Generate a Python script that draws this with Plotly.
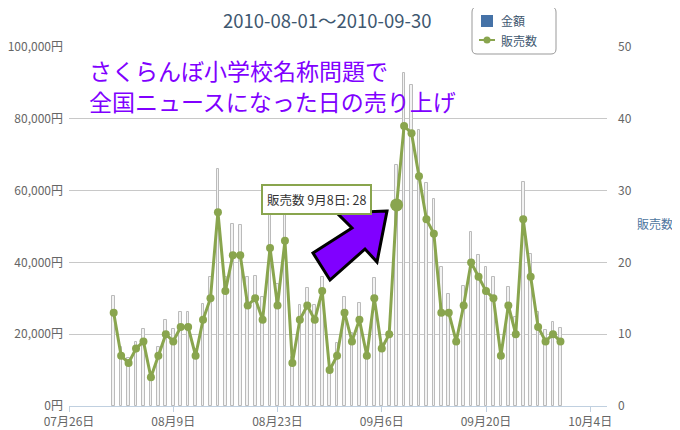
import pandas as pd
import plotly.graph_objects as go

# ---------------- data ----------------
dates = pd.date_range("2010-08-01", "2010-09-30", freq="D")

amount_yen = [
    30700, 16500, 13400, 17900, 21400, 8900, 16500, 24000, 21400, 26300,
    26300, 16000, 28300, 35800, 66000, 36000, 50700, 50400, 36000, 36300,
    30400, 53200, 34000, 55300, 13700, 28100, 32800, 28100, 35800, 10000,
    17500,
    30400, 20300, 28600, 15600, 35600, 17500, 20300, 67100, 92700, 89500,
    76900, 62000, 57800, 38800, 31200, 19300, 33400, 48600, 42000, 38800,
    35800, 15600, 33200, 24900, 62500, 42300, 26200, 21200, 23500, 21600,
]

sales_count = [
    13, 7, 6, 8, 9, 4, 7, 10, 9, 11,
    11, 7, 12, 15, 27, 16, 21, 21, 14, 15,
    12, 22, 14, 23, 6, 12, 14, 12, 16, 5,
    7,
    13, 9, 12, 7, 15, 8, 10, 28, 39, 38,
    32, 26, 24, 13, 13, 9, 14, 20, 18, 16,
    15, 7, 14, 10, 26, 18, 11, 9, 10, 9,
]

title_text = "2010-08-01～2010-09-30"
series_names = ["金額", "販売数"]
note_lines = ["さくらんぼ小学校名称問題で", "全国ニュースになった日の売り上げ"]
highlight_index = 38  # 9月8日
tooltip_text = "販売数 9月8日: 28"
right_axis_title = "販売数"

# ---------------- geometry ----------------
# The page body has a default 8px margin, so the figure is offset by 8px.
OFF = 8
W, H = 680 - OFF, 430 - OFF
# plot area in screenshot pixels
L, R, T, B = 69, 607, 47, 406


def px(x):
    return (x - L) / (R - L)


def py(y):
    return (B - y) / (B - T)


GREEN = "#89A54E"
FONT = "Noto Sans CJK JP"

fig = go.Figure()

fig.add_trace(go.Bar(
    x=dates, y=amount_yen, name=series_names[0], yaxis="y",
    width=0.36 * 86400000,
    marker=dict(color="#f3f3f3", line=dict(color="#bbbbbb", width=1)),
    showlegend=False, hoverinfo="skip",
))

fig.add_trace(go.Scatter(
    x=dates, y=sales_count, name=series_names[1], yaxis="y2",
    mode="lines+markers",
    line=dict(color=GREEN, width=3),
    marker=dict(color=GREEN, size=8),
    showlegend=False,
))

fig.add_trace(go.Scatter(
    x=[dates[highlight_index]], y=[sales_count[highlight_index]], yaxis="y2",
    mode="markers", marker=dict(color=GREEN, size=13),
    showlegend=False, hoverinfo="skip",
))

# arrow polygon (screenshot pixel coordinates)
arrow_pts = [(387, 211), (337, 213), (352, 228), (313, 253), (330, 280),
             (365, 249), (377, 262)]
path = "M " + " L ".join(f"{px(x):.5f},{py(y):.5f}" for x, y in arrow_pts) + " Z"


def rounded_rect(x0, y0, x1, y1, r):
    rx = r / (R - L)
    ry = r / (B - T)
    X0, X1 = px(x0), px(x1)
    Y0, Y1 = py(y0), py(y1)
    return (f"M {X0+rx},{Y0} L {X1-rx},{Y0} Q {X1},{Y0} {X1},{Y0-ry} "
            f"L {X1},{Y1+ry} Q {X1},{Y1} {X1-rx},{Y1} "
            f"L {X0+rx},{Y1} Q {X0},{Y1} {X0},{Y1+ry} "
            f"L {X0},{Y0-ry} Q {X0},{Y0} {X0+rx},{Y0} Z")


shapes = [
    dict(type="path", xref="paper", yref="paper", path=path,
         fillcolor="#8000ff", line=dict(color="#000000", width=3), layer="above"),
    dict(type="path", xref="paper", yref="paper",
         path=rounded_rect(472, 7, 556, 54, 5),
         fillcolor="#ffffff", line=dict(color="#999999", width=1), layer="above"),
    dict(type="rect", xref="paper", yref="paper",
         x0=px(481), x1=px(493), y0=py(15), y1=py(27),
         fillcolor="#4572A7", line=dict(width=0), layer="above"),
    dict(type="line", xref="paper", yref="paper",
         x0=px(479), x1=px(495), y0=py(40), y1=py(40),
         line=dict(color=GREEN, width=2), layer="above"),
    dict(type="circle", xref="paper", yref="paper",
         x0=px(483.5), x1=px(490.5), y0=py(36.5), y1=py(43.5),
         fillcolor=GREEN, line=dict(width=0), layer="above"),
]

annotations = [
    dict(text=title_text, xref="paper", yref="paper", x=px(327), y=py(20),
         showarrow=False, xanchor="center", yanchor="middle",
         font=dict(family=FONT, size=18.5, color="#3E576F")),
    dict(text=note_lines[0], xref="paper", yref="paper", x=px(87), y=py(70),
         showarrow=False, xanchor="left", yanchor="middle",
         font=dict(family=FONT, size=23, color="#8000ff")),
    dict(text=note_lines[1], xref="paper", yref="paper", x=px(87), y=py(101),
         showarrow=False, xanchor="left", yanchor="middle",
         font=dict(family=FONT, size=23, color="#8000ff")),
    dict(text=series_names[0], xref="paper", yref="paper", x=px(499), y=py(21),
         showarrow=False, xanchor="left", yanchor="middle",
         font=dict(family=FONT, size=12, color="#3E576F")),
    dict(text=series_names[1], xref="paper", yref="paper", x=px(499), y=py(40),
         showarrow=False, xanchor="left", yanchor="middle",
         font=dict(family=FONT, size=12, color="#3E576F")),
    dict(text=right_axis_title, xref="paper", yref="paper", x=px(655), y=py(223),
         showarrow=False, xanchor="center", yanchor="middle",
         font=dict(family=FONT, size=12, color="#4d759e")),
    dict(text=tooltip_text, xref="paper", yref="paper", x=px(316.5), y=py(199.5),
         showarrow=False, xanchor="center", yanchor="middle",
         bgcolor="#ffffff", bordercolor=GREEN, borderwidth=2, borderpad=4,
         font=dict(family=FONT, size=12.5, color="#333333")),
]

fig.update_layout(
    width=W, height=H,
    margin=dict(l=L - OFF, r=W - (R - OFF), t=T - OFF, b=H - (B - OFF),
                autoexpand=False),
    paper_bgcolor="#ffffff", plot_bgcolor="#ffffff",
    font=dict(family=FONT, size=12, color="#666666"),
    bargap=0,
    xaxis=dict(
        type="date", automargin=False,
        range=["2010-07-26", "2010-10-06 06:00"],
        tick0="2010-07-26", dtick=14 * 86400000,
        tickformat="%m月%-d日",
        showgrid=False, zeroline=False,
        showline=True, linecolor="#C0D0E0", linewidth=1,
        ticks="outside", ticklen=5, tickcolor="#C0D0E0",
        tickfont=dict(family=FONT, size=12, color="#666666"),
    ),
    yaxis=dict(
        range=[0, 100000], dtick=20000, automargin=False,
        tickformat=",", ticksuffix="円",
        showgrid=True, gridcolor="#C8C8C8", gridwidth=1,
        zeroline=False, showline=False, ticks="",
        ticklabelstandoff=5,
        tickfont=dict(family=FONT, size=12, color="#666666"),
    ),
    yaxis2=dict(
        range=[0, 50], dtick=10, overlaying="y", side="right", automargin=False,
        showgrid=False, zeroline=False, showline=False, ticks="",
        ticklabelstandoff=10,
        tickfont=dict(family=FONT, size=12, color="#666666"),
    ),
    shapes=shapes,
    annotations=annotations,
    showlegend=False,
)

fig.write_html("out.html")
